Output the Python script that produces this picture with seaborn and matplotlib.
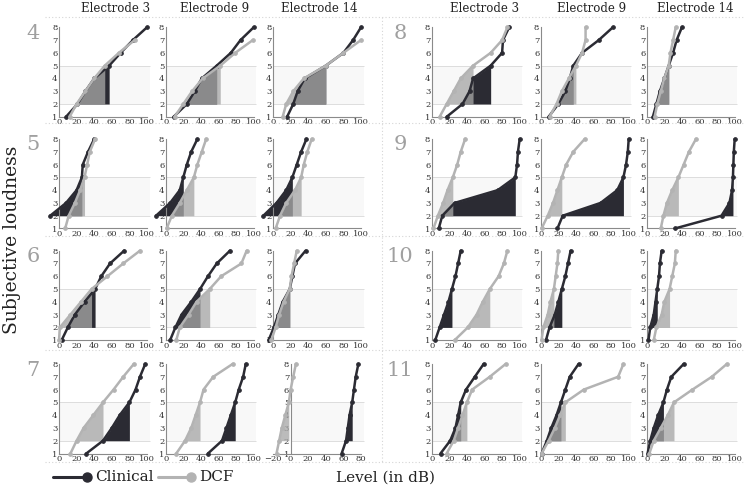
import numpy as np
import matplotlib
matplotlib.use("Agg")
import matplotlib.pyplot as plt
import seaborn as sns
from matplotlib.lines import Line2D

nan = np.nan

# loudness categories (y) and level in dB per category, for electrodes 3, 9, 14
loudness = [1, 2, 3, 4, 5, 6, 7, 8]
electrodes = ["Electrode 3", "Electrode 9", "Electrode 14"]
subjects_left = [4, 5, 6, 7]
subjects_right = [8, 9, 10, 11]

clinical_4 = [[8, 21, 30, 40, 57, 70, 84, 100], [9, 24, 33, 41, 58, 74, 85, 100], [16, 23, 28, 36, 60, 80, 91, 100]]
dcf_4 = [[12, 20, 30, 40, 52, 68, 86, nan], [10, 20, 30, 42, 62, 79, 99, nan], [11, 15, 23, 35, 60, 80, 100, nan]]

clinical_5 = [[nan, -10, 8, 20, 26, 27, 33, 40], [nan, -11, 5, 16, 20, 24, 29, 36], [nan, -11, 4, 15, 22, 27, 32, 38]]
dcf_5 = [[7, 11, 18, 24, 29, 32, 35, 41], [1, 7, 16, 24, 32, 36, 41, 46], [3, 8, 15, 25, 32, 35, 39, 44]]

clinical_6 = [[3, 10, 18, 29, 41, 48, 58, 74], [5, 11, 18, 29, 39, 48, 58, 73], [-5, 1, 6, 11, 19, 22, 25, 37]]
dcf_6 = [[0, 1, 13, 25, 37, 55, 73, 92], [12, 16, 26, 35, 50, 63, 86, 92], [-2, 3, 7, 12, 19, 21, 24, 27]]

clinical_7 = [[31, 50, 60, 69, 80, 87, 92, 98], [48, 64, 69, 74, 79, 83, 88, 91], [58, 63, 65, 67, 70, 72, 74, 77]]
dcf_7 = [[13, 20, 28, 39, 50, 62, 73, 85], [12, 22, 29, 34, 39, 43, 54, 76], [-16, -13, -10, -6, -2, 0, 3, 6]]

clinical_8 = [[17, 35, 43, 47, 67, 80, 81, 88], [9, 20, 28, 33, 37, 47, 66, 82], [7, 11, 15, 20, 25, 30, 34, 40]]
dcf_8 = [[9, 17, 25, 33, 47, 67, 80, 86], [10, 18, 24, 32, 40, 47, 51, 51], [9, 12, 16, 20, 25, 27, 30, 33]]

clinical_9 = [[8, 12, 26, 75, 95, 97, 98, 100], [19, 25, 68, 87, 94, 97, 99, 100], [32, 85, 94, 97, 98, 98.5, 99, 100]]
dcf_9 = [[2, 7, 13, 18, 24, 29, 33, 38], [1, 8, 14, 19, 24, 29, 37, 50], [16, 19, 23, 29, 36, 42, 48, 56]]

clinical_10 = [[4, 9, 14, 19, 23, 27, 30, 33], [6, 10, 16, 20, 24, 28, 31, 34], [2, 4, 8, 10, 12, 14, 15, 17]]
dcf_10 = [[26, 41, 51, 58, 66, 76, 82, 86], [1, 3, 8, 11, 15, 17, 19, 20], [8, 11, 17, 20, 26, 29, 32, 33]]

clinical_11 = [[10, 21, 27, 30, 33, 39, 49, 59], [1, 7, 12, 18, 23, 28, 33, 43], [1, 4, 8, 13, 19, 23, 28, 42]]
dcf_11 = [[17, 25, 30, 35, 40, 46, 66, 84], [1, 9, 16, 22, 28, 49, 88, 94], [3, 8, 16, 24, 31, 52, 74, 91]]

clinical = {4: clinical_4, 5: clinical_5, 6: clinical_6, 7: clinical_7,
            8: clinical_8, 9: clinical_9, 10: clinical_10, 11: clinical_11}
dcf = {4: dcf_4, 5: dcf_5, 6: dcf_6, 7: dcf_7,
       8: dcf_8, 9: dcf_9, 10: dcf_10, 11: dcf_11}

DARK = "#2b2b33"
LIGHT = "#b3b3b3"

sns.set_style("white")
plt.rcParams["font.family"] = ["DejaVu Serif"]

W, H = 750, 490
fig = plt.figure(figsize=(7.5, 4.9), dpi=100)

col_left = [[59, 165.7, 273], [431.7, 540.7, 646.7]]
row_top = [27.3, 139, 250.7, 364]
ax_w, ax_h = 88, 89.5


def draw_panel(ax, clin, dc, xlim):
    y = np.array(loudness, dtype=float)
    # faint band between loudness 2 and 5, starting at the y axis
    ax.fill_between([0, xlim[1] + 3], 2, 5, color="#f8f8f8", lw=0, zorder=0, clip_on=False)
    ax.hlines([2, 5], 0, xlim[1] + 3, color="#dddddd", lw=0.7, zorder=0.5, clip_on=False)
    # shaded area: from each curve to its level at loudness 5, between 2 and 5
    for vals, col, alpha in [(clin, DARK, 1.0), (dc, "#a7a7a7", 0.77)]:
        x = np.array(vals, dtype=float)
        seg = (y >= 2) & (y <= 5)
        ax.fill_betweenx(y[seg], x[seg], x[4], color=col, alpha=alpha, lw=0,
                         zorder=1, clip_on=False)
    for vals, col in [(clin, DARK), (dc, LIGHT)]:
        x = np.array(vals, dtype=float)
        ok = ~np.isnan(x)
        sns.lineplot(x=x[ok], y=y[ok], sort=False, estimator=None, color=col,
                     lw=1.8, marker="o", ms=2.6, mec=col, ax=ax, clip_on=False,
                     zorder=3)
    ax.set_xlim(*xlim)
    ax.set_ylim(1, 8)
    ax.set_xticks(np.arange(xlim[0], xlim[1] + 1, 20))
    ax.set_yticks(loudness)
    ax.set_xlabel("")
    ax.set_ylabel("")
    for s in ["top", "right"]:
        ax.spines[s].set_visible(False)
    for s in ["left", "bottom"]:
        ax.spines[s].set_color("#8a8a8a")
        ax.spines[s].set_linewidth(0.8)
    ax.spines["left"].set_position(("data", 0))
    ax.tick_params(direction="in", length=2, width=0.6, color="#8a8a8a",
                   labelsize=6, labelcolor="#333333", pad=1)
    ax.set_facecolor("none")


for half, subs in enumerate([subjects_left, subjects_right]):
    for r, s in enumerate(subs):
        for c in range(3):
            left = col_left[half][c]
            top = row_top[r]
            ax = fig.add_axes([left / W, 1 - (top + ax_h) / H, ax_w / W, ax_h / H])
            xlim = (-20, 80) if (s == 7 and c == 2) else (0, 100)
            draw_panel(ax, clinical[s][c], dcf[s][c], xlim)
        fig.text((33 if half == 0 else 400) / W, 1 - (row_top[r] + 6) / H, str(s),
                 fontsize=15, color="#a0a0a0", ha="center", va="center")

title_x = [116, 215, 319, 485, 592, 695]
for i, tx in enumerate(title_x):
    fig.text(tx / W, 1 - 9 / H, electrodes[i % 3], fontsize=8.5, color="#222222",
             ha="center", va="center")

# dotted separators
for yy in [17, 123, 236, 350, 462]:
    fig.add_artist(Line2D([45 / W, 745 / W], [1 - yy / H, 1 - yy / H], color="#d5d5d5",
                          lw=0.8, ls=(0, (1, 2))))
fig.add_artist(Line2D([382 / W, 382 / W], [1 - 17 / H, 1 - 462 / H], color="#d5d5d5",
                      lw=0.8, ls=(0, (1, 2))))

fig.text(12 / W, 1 - 240 / H, "Subjective loudness", rotation=90, fontsize=13.5,
         color="#222222", ha="center", va="center")
fig.text(385 / W, 1 - 478 / H, "Level (in dB)", fontsize=11, color="#222222",
         ha="center", va="center")

# legend
ly = 1 - 477 / H
fig.add_artist(Line2D([53 / W, 87 / W], [ly, ly], color=DARK, lw=2.2))
fig.add_artist(Line2D([87 / W], [ly], color=DARK, marker="o", ms=6.5))
fig.text(95 / W, ly, "Clinical", fontsize=11, color="#222222", va="center")
fig.add_artist(Line2D([158 / W, 191 / W], [ly, ly], color=LIGHT, lw=2.2))
fig.add_artist(Line2D([191 / W], [ly], color=LIGHT, marker="o", ms=6.5))
fig.text(199 / W, ly, "DCF", fontsize=11, color="#222222", va="center")

fig.savefig("out.png", dpi=100)
